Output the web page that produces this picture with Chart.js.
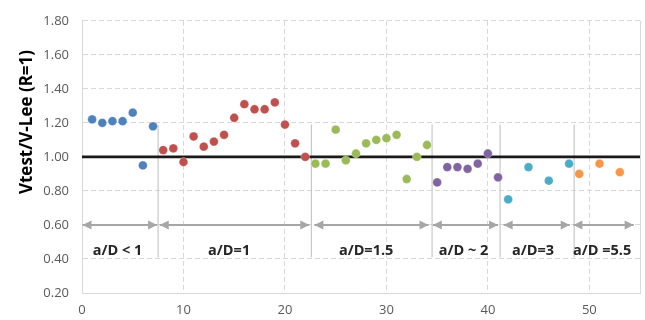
<!DOCTYPE html>
<html>
<head>
<meta charset="utf-8">
<script src="https://cdn.jsdelivr.net/npm/chart.js@4/dist/chart.umd.min.js"></script>
<style>
  html, body { margin: 0; padding: 0; background: #fff; }
  #wrap { width: 645px; height: 320px; position: relative; }
</style>
</head>
<body>
<div id="wrap"><canvas id="c" width="645" height="320"></canvas></div>
<script>
// Vtest / V-Lee ratio per specimen, grouped by shear span ratio a/D
const groupNames = ['a/D < 1', 'a/D=1', 'a/D=1.5', 'a/D ~ 2', 'a/D=3', 'a/D =5.5'];
const groupColors = ['#4F81BD', '#C0504D', '#9BBB59', '#8064A2', '#4BACC6', '#F79646'];

const specimensA = [1, 2, 3, 4, 5, 6, 7];
const ratiosA    = [1.22, 1.20, 1.21, 1.21, 1.26, 0.95, 1.18];

const specimensB = [8, 9, 10, 11, 12, 13, 14, 15, 16, 17, 18, 19, 20, 21, 22];
const ratiosB    = [1.04, 1.05, 0.97, 1.12, 1.06, 1.09, 1.13, 1.23, 1.31, 1.28, 1.28, 1.32, 1.19, 1.08, 1.00];

const specimensC = [23, 24, 25, 26, 27, 28, 29, 30, 31, 32, 33, 34];
const ratiosC    = [0.96, 0.96, 1.16, 0.98, 1.02, 1.08, 1.10, 1.11, 1.13, 0.87, 1.00, 1.07];

const specimensD = [35, 36, 37, 38, 39, 40, 41];
const ratiosD    = [0.85, 0.94, 0.94, 0.93, 0.96, 1.02, 0.88];

const specimensE = [42, 44, 46, 48];
const ratiosE    = [0.75, 0.94, 0.86, 0.96];

const specimensF = [49, 51, 53];
const ratiosF    = [0.90, 0.96, 0.91];

// group boundaries, arrow spans and label anchors (in specimen units)
const dividers    = [7.5, 22.6, 34.5, 41.2, 48.5];
const dividerSpan = [0.41, 1.19];
const arrowStarts = [0.05, 7.66, 22.9, 34.57, 41.55, 48.43];
const arrowEnds   = [7.4, 22.4, 34.15, 41.0, 48.07, 54.37];
const arrowLevel  = 0.60;
const labelX      = [3.5, 14.5, 28.0, 37.6, 44.45, 51.25];
const labelLevel  = 0.445;

const referenceRatio = 1.0;
const xTicks = [0, 10, 20, 30, 40, 50];
const yTicks = [0.20, 0.40, 0.60, 0.80, 1.00, 1.20, 1.40, 1.60, 1.80];
const yTitle = 'Vtest/V-Lee (R=1)';

const groups = [
  [specimensA, ratiosA], [specimensB, ratiosB], [specimensC, ratiosC],
  [specimensD, ratiosD], [specimensE, ratiosE], [specimensF, ratiosF]
];

const datasets = groups.map((g, i) => ({
  type: 'scatter',
  label: groupNames[i],
  data: g[0].map((x, k) => ({ x: x, y: g[1][k] })),
  backgroundColor: groupColors[i],
  borderColor: 'rgba(255,255,255,0.6)',
  borderWidth: 0.5,
  pointRadius: 4.4,
  order: 1
}));

// reference line R = 1
datasets.push({
  type: 'line',
  label: 'R=1',
  data: [{ x: 0, y: referenceRatio }, { x: 55, y: referenceRatio }],
  borderColor: '#1a1a1a',
  borderWidth: 2.6,
  pointRadius: 0,
  order: 20
});

// group dividers
dividers.forEach(d => {
  datasets.push({
    type: 'line',
    label: 'divider',
    data: [{ x: d, y: dividerSpan[0] }, { x: d, y: dividerSpan[1] }],
    borderColor: '#bdbdbd',
    borderWidth: 1,
    pointRadius: 0,
    order: 30
  });
});

// double-headed arrows marking each group's range
arrowStarts.forEach((s, i) => {
  datasets.push({
    type: 'line',
    label: 'range',
    data: [{ x: s, y: arrowLevel }, { x: arrowEnds[i], y: arrowLevel }],
    borderColor: '#a6a6a6',
    borderWidth: 2,
    pointRadius: 0,
    order: 30
  });
});

const annotate = {
  id: 'annotate',
  afterDatasetsDraw(chart) {
    const ctx = chart.ctx;
    const xs = chart.scales.x, ys = chart.scales.y;
    const area = chart.chartArea;
    ctx.save();
    // arrow heads
    ctx.fillStyle = '#a6a6a6';
    const yA = ys.getPixelForValue(arrowLevel);
    const head = (px, dir) => {
      ctx.beginPath();
      ctx.moveTo(px, yA);
      ctx.lineTo(px - dir * 9, yA - 4.5);
      ctx.lineTo(px - dir * 9, yA + 4.5);
      ctx.closePath();
      ctx.fill();
    };
    arrowStarts.forEach((s, i) => {
      head(xs.getPixelForValue(s), -1);
      head(xs.getPixelForValue(arrowEnds[i]), 1);
    });
    // group labels
    ctx.fillStyle = '#262626';
    ctx.font = 'bold 14.5px "Open Sans", "Noto Sans", sans-serif';
    ctx.textAlign = 'center';
    ctx.textBaseline = 'middle';
    const yL = ys.getPixelForValue(labelLevel);
    groupNames.forEach((n, i) => ctx.fillText(n, xs.getPixelForValue(labelX[i]), yL));
    // plot border on the right
    ctx.strokeStyle = '#d9d9d9';
    ctx.lineWidth = 1;
    ctx.beginPath();
    ctx.moveTo(area.right + 0.5, area.top);
    ctx.lineTo(area.right + 0.5, area.bottom);
    ctx.stroke();
    // y-axis title
    ctx.fillStyle = '#000';
    ctx.font = 'bold 17px "Open Sans", "Noto Sans", sans-serif';
    ctx.translate(27, 122);
    ctx.rotate(-Math.PI / 2);
    ctx.fillText(yTitle, 0, 0);
    ctx.restore();
  }
};

new Chart(document.getElementById('c'), {
  type: 'scatter',
  data: { datasets: datasets },
  plugins: [annotate],
  options: {
    responsive: false,
    animation: false,
    layout: { padding: { left: 0, right: 2, top: 12, bottom: 0 } },
    plugins: { legend: { display: false }, tooltip: { enabled: false } },
    scales: {
      x: {
        type: 'linear',
        min: 0,
        max: 55,
        afterBuildTicks: s => { s.ticks = xTicks.map(v => ({ value: v })); },
        afterFit: s => { s.height = 27; },
        ticks: { padding: 9, color: '#595959', font: { size: 13, family: '"Open Sans", "Noto Sans", sans-serif' } },
        grid: { color: '#d9d9d9', drawTicks: false },
        border: { display: true, color: '#d9d9d9', dash: [5, 3] }
      },
      y: {
        type: 'linear',
        min: 0.2,
        max: 1.8,
        afterBuildTicks: s => { s.ticks = yTicks.map(v => ({ value: v })); },
        afterFit: s => { s.width = 82; },
        ticks: {
          padding: 13,
          color: '#595959',
          font: { size: 13, family: '"Open Sans", "Noto Sans", sans-serif' },
          callback: v => Number(v).toFixed(2)
        },
        grid: { color: '#d9d9d9', drawTicks: false },
        border: { display: true, color: '#d9d9d9', dash: [5, 3] }
      }
    }
  }
});
</script>
</body>
</html>
